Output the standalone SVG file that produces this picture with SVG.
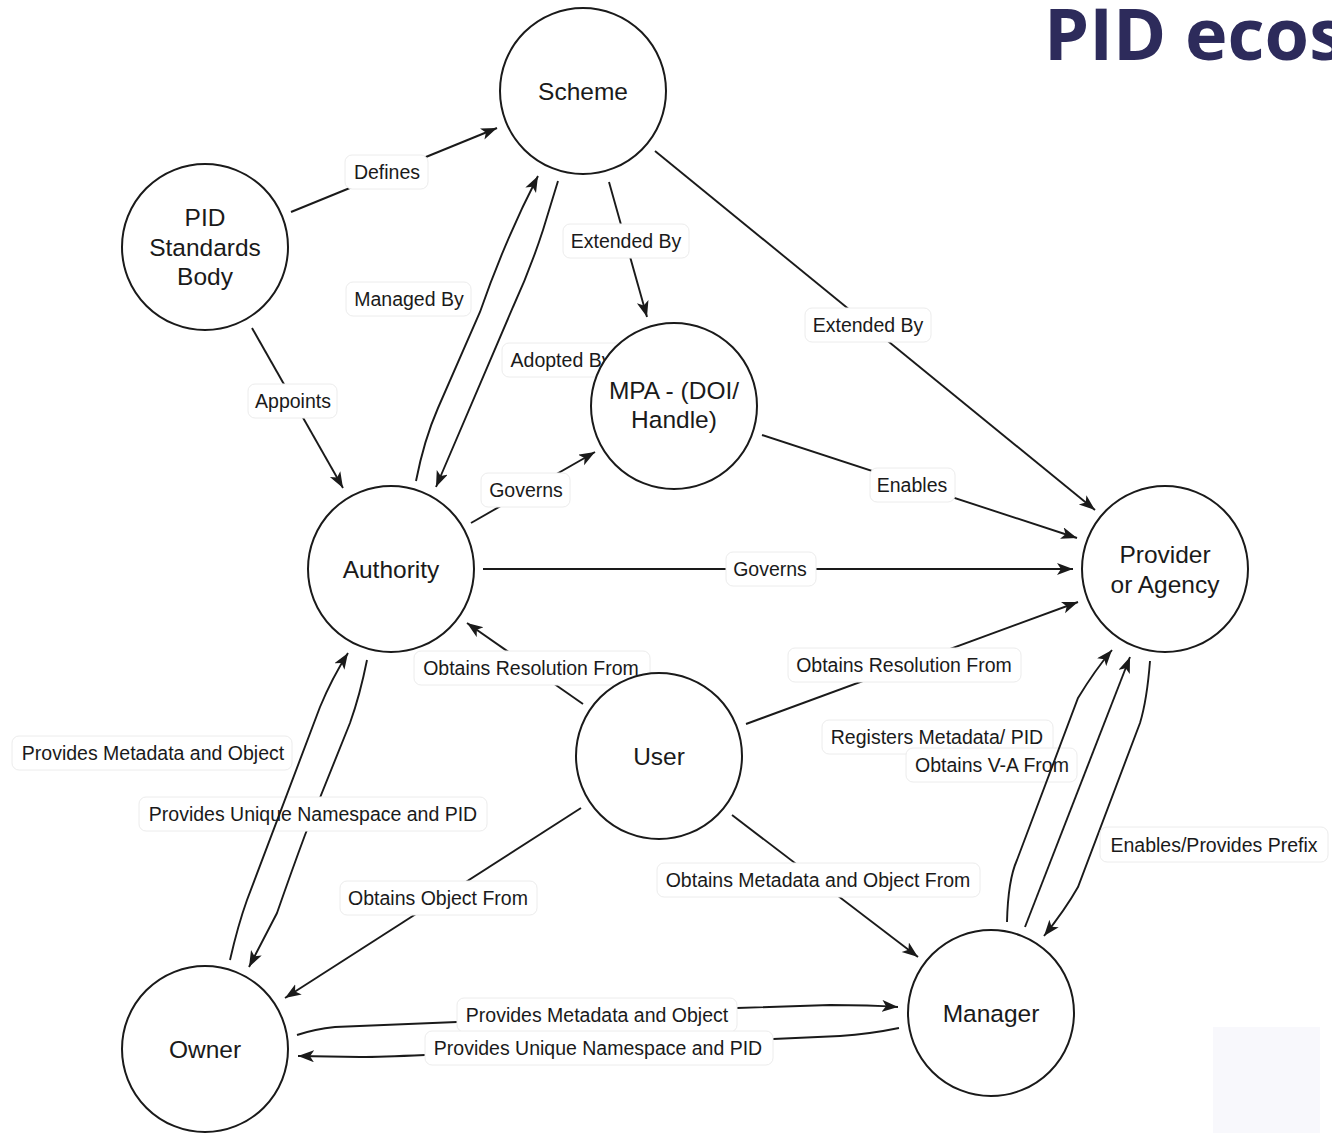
<svg xmlns="http://www.w3.org/2000/svg" width="1332" height="1138" viewBox="0 0 1332 1138">
  <style>
    .node circle { fill: #ffffff; stroke: #1a1a1a; stroke-width: 2; }
    .node text { font-family: "Liberation Sans", Arial, sans-serif; font-size: 24.5px; fill: #1a1a1a; text-anchor: middle; }
    .edge { fill: none; stroke: #1a1a1a; stroke-width: 1.9; }
    .arrow { marker-end: url(#head); }
    .lbl rect { fill: #ffffff; stroke: #ececec; stroke-width: 1; }
    .lbl text { font-family: "Liberation Sans", Arial, sans-serif; font-size: 19.5px; fill: #1a1a1a; text-anchor: middle; }
    .title { font-family: "Open Sans", "Liberation Sans", sans-serif; font-weight: bold; font-size: 72px; fill: #2d2b5b; }
  </style>
  <defs>
    <marker id="head" markerUnits="userSpaceOnUse" markerWidth="18" markerHeight="13" refX="16" refY="6" orient="auto">
      <path d="M0,0 L16,6 L0,12 L4,6 z" fill="#1a1a1a"/>
    </marker>
  </defs>

  <rect width="1332" height="1138" fill="#ffffff"/>

  <!-- heading -->
  <text class="title" x="1044" y="60">PID ecos</text>

  <!-- pale panel, bottom right -->
  <rect x="1213" y="1027" width="107" height="106" fill="#f8f8fc"/>

  <!-- connectors -->
  <g id="connectors">
    <path class="edge arrow" d="M291,212 L497,128"/>
    <path class="edge arrow" d="M252,328 L343,488"/>
    <path class="edge arrow" d="M416,481 Q424,440 438,408 L480,312 Q505,240 538,176"/>
    <path class="edge arrow" d="M558,181 L543,230 Q530,270 513,307 L436,487"/>
    <path class="edge arrow" d="M609,182 L647,317"/>
    <path class="edge arrow" d="M655,151 L1095,510"/>
    <path class="edge arrow" d="M762,435 L1077,538"/>
    <path class="edge arrow" d="M471,523 L595,452"/>
    <path class="edge arrow" d="M483,569 L1073,569"/>
    <path class="edge arrow" d="M583,704 L467,623"/>
    <path class="edge arrow" d="M746,724 L1078,602"/>
    <path class="edge arrow" d="M581,808 L285,998"/>
    <path class="edge arrow" d="M732,815 L918,957"/>
    <path class="edge arrow" d="M367,660 Q360,695 350,723 L305,835 Q292,870 277,913 L249,967"/>
    <path class="edge arrow" d="M297,1035 Q315,1029 335,1027 L457,1022 L737,1008 L830,1005 Q870,1005 898,1007"/>
    <path class="edge arrow" d="M899,1028 Q870,1034 840,1036 L425,1055 Q380,1057 360,1057 L298,1056"/>
    <path class="edge arrow" d="M1025,927 L1130,657"/>
    <path class="edge arrow" d="M1150,661 Q1147,700 1140,723 L1078,887 Q1065,910 1044,936"/>

    <!-- edge labels -->
    <g class="lbl"><rect x="345" y="155" width="83" height="34" rx="7"/><text x="387" y="179">Defines</text></g>
    <g class="lbl"><rect x="248" y="384" width="89" height="34" rx="7"/><text x="293" y="408">Appoints</text></g>
    <g class="lbl"><rect x="346" y="282" width="125" height="34" rx="7"/><text x="409" y="306">Managed By</text></g>
    <g class="lbl"><rect x="502" y="343" width="124" height="34" rx="7"/><text x="561" y="367">Adopted By</text></g>
    <g class="lbl"><rect x="563" y="224" width="126" height="34" rx="7"/><text x="626" y="248">Extended By</text></g>
    <g class="lbl"><rect x="805" y="308" width="126" height="34" rx="7"/><text x="868" y="332">Extended By</text></g>
    <g class="lbl"><rect x="870" y="468" width="85" height="34" rx="7"/><text x="912" y="492">Enables</text></g>
    <g class="lbl"><rect x="481" y="473" width="89" height="34" rx="7"/><text x="526" y="497">Governs</text></g>
    <g class="lbl"><rect x="726" y="552" width="90" height="34" rx="7"/><text x="770" y="576">Governs</text></g>
    <g class="lbl"><rect x="414" y="651" width="236" height="34" rx="7"/><text x="531" y="675">Obtains Resolution From</text></g>
    <g class="lbl"><rect x="788" y="648" width="233" height="34" rx="7"/><text x="904" y="672">Obtains Resolution From</text></g>
    <g class="lbl"><rect x="822" y="720" width="231" height="34" rx="7"/><text x="937" y="744">Registers Metadata/ PID</text></g>
    <g class="lbl"><rect x="906" y="748" width="171" height="34" rx="7"/><text x="992" y="772">Obtains V-A From</text></g>
    <g class="lbl"><rect x="1100" y="827" width="228" height="35" rx="7"/><text x="1214" y="852">Enables/Provides Prefix</text></g>
    <g class="lbl"><rect x="12" y="736" width="280" height="34" rx="7"/><text x="153" y="760">Provides Metadata and Object</text></g>
    <g class="lbl"><rect x="139" y="797" width="348" height="34" rx="7"/><text x="313" y="821">Provides Unique Namespace and PID</text></g>
    <g class="lbl"><rect x="340" y="881" width="197" height="34" rx="7"/><text x="438" y="905">Obtains Object From</text></g>
    <g class="lbl"><rect x="657" y="863" width="323" height="34" rx="7"/><text x="818" y="887">Obtains Metadata and Object From</text></g>
    <g class="lbl"><rect x="457" y="998" width="280" height="34" rx="7"/><text x="597" y="1022">Provides Metadata and Object</text></g>
    <g class="lbl"><rect x="425" y="1031" width="348" height="34" rx="7"/><text x="598" y="1055">Provides Unique Namespace and PID</text></g>

    <!-- connectors that run across neighbouring labels -->
    <path class="edge arrow" d="M230,960 Q238,925 247,900 L320,707 Q332,678 348,653"/>
    <path class="edge arrow" d="M1007,922 Q1008,880 1017,860 L1078,698 Q1095,670 1112,650"/>
  </g>

  <!-- nodes -->
  <g id="scheme" class="node"><circle cx="583" cy="91" r="83"/><text x="583" y="100">Scheme</text></g>
  <g id="pid-standards-body" class="node"><circle cx="205" cy="247" r="83"/>
    <text x="205" y="226">PID</text><text x="205" y="256">Standards</text><text x="205" y="285">Body</text></g>
  <g id="mpa" class="node"><circle cx="674" cy="406" r="83"/>
    <text x="674" y="399">MPA - (DOI/</text><text x="674" y="428">Handle)</text></g>
  <g id="authority" class="node"><circle cx="391" cy="569" r="83"/><text x="391" y="578">Authority</text></g>
  <g id="provider" class="node"><circle cx="1165" cy="569" r="83"/>
    <text x="1165" y="563">Provider</text><text x="1165" y="593">or Agency</text></g>
  <g id="user" class="node"><circle cx="659" cy="756" r="83"/><text x="659" y="765">User</text></g>
  <g id="owner" class="node"><circle cx="205" cy="1049" r="83"/><text x="205" y="1058">Owner</text></g>
  <g id="manager" class="node"><circle cx="991" cy="1013" r="83"/><text x="991" y="1022">Manager</text></g>
</svg>
